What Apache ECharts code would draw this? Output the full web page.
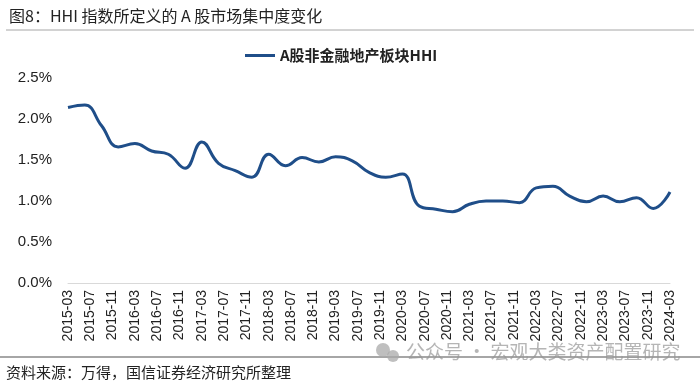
<!DOCTYPE html>
<html>
<head>
<meta charset="utf-8">
<script src="https://cdn.jsdelivr.net/npm/echarts@6/dist/echarts.min.js"></script>
<style>
html,body{margin:0;padding:0;background:#fff;}
#main{width:700px;height:386px;}
</style>
</head>
<body>
<div id="main"></div>
<script>
// Monthly category axis 2015-03 .. 2024-03
const months = [];
for (let y = 2015; y <= 2024; y++) {
  for (let m = 1; m <= 12; m++) {
    if ((y === 2015 && m < 3) || (y === 2024 && m > 3)) continue;
    months.push(y + '-' + (m < 10 ? '0' + m : '' + m));
  }
}
// Quarterly observations
const quarters = [
  '2015-03','2015-06','2015-09','2015-12',
  '2016-03','2016-06','2016-09','2016-12',
  '2017-03','2017-06','2017-09','2017-12',
  '2018-03','2018-06','2018-09','2018-12',
  '2019-03','2019-06','2019-09','2019-12',
  '2020-03','2020-06','2020-09','2020-12',
  '2021-03','2021-06','2021-09','2021-12',
  '2022-03','2022-06','2022-09','2022-12',
  '2023-03','2023-06','2023-09','2023-12',
  '2024-03'
];
// HHI in percent
const hhi = [
  2.14, 2.17, 1.92, 1.66,
  1.70, 1.61, 1.57, 1.40,
  1.72, 1.46, 1.37, 1.29,
  1.57, 1.43, 1.53, 1.475,
  1.54, 1.49, 1.35, 1.29,
  1.33, 0.94, 0.90, 0.87,
  0.96, 1.00, 1.00, 0.98,
  1.16, 1.18, 1.06, 0.99,
  1.06, 0.99, 1.04, 0.91,
  1.11
];
const seriesName = 'A股非金融地产板块HHI';
const titleText = '图8：HHI 指数所定义的 A 股市场集中度变化';
const sourceText = '资料来源：万得，国信证券经济研究所整理';
const watermark = '公众号 · 宏观大类资产配置研究';

const chart = echarts.init(document.getElementById('main'), null, {renderer: 'canvas'});
chart.setOption({
  backgroundColor: '#ffffff',
  animation: false,
  title: {
    text: titleText,
    left: 4, top: 3,
    textStyle: {fontFamily: '"Noto Sans CJK SC", sans-serif', fontSize: 16, fontWeight: 'normal', color: '#222'}
  },
  legend: {
    data: [seriesName],
    top: 43, left: 240,
    itemWidth: 30, itemHeight: 3, itemGap: 6,
    icon: 'rect',
    textStyle: {fontFamily: '"Noto Sans CJK SC", sans-serif', fontSize: 15, fontWeight: 'bold', color: '#222'}
  },
  grid: {left: 68, right: 30, top: 78, bottom: 103, containLabel: false},
  xAxis: {
    type: 'category',
    data: months,
    boundaryGap: false,
    axisLine: {lineStyle: {color: '#d9d9d9', width: 1}},
    axisTick: {show: false},
    axisLabel: {
      interval: 3, rotate: 90, fontSize: 14, color: '#222', margin: 7,
      fontFamily: '"Liberation Sans", Arial, sans-serif'
    },
    splitLine: {show: false}
  },
  yAxis: {
    type: 'value',
    min: 0, max: 2.5, interval: 0.5,
    axisLine: {show: false},
    axisTick: {show: false},
    splitLine: {show: false},
    axisLabel: {
      fontSize: 15, color: '#222', margin: 16,
      fontFamily: '"Liberation Sans", Arial, sans-serif',
      formatter: v => v.toFixed(1) + '%'
    }
  },
  series: [{
    name: seriesName,
    type: 'line',
    smooth: 0.45,
    showSymbol: false,
    symbol: 'none',
    lineStyle: {color: '#1f4e89', width: 3},
    itemStyle: {color: '#1f4e89'},
    data: quarters.map((q, i) => [q, hhi[i]])
  }],
  graphic: [
    {type: 'line', shape: {x1: 6, y1: 30, x2: 694, y2: 30}, style: {stroke: '#a6a6a6', lineWidth: 1}},
    {type: 'line', shape: {x1: 0, y1: 357, x2: 700, y2: 357}, style: {stroke: '#a6a6a6', lineWidth: 2}},
    {type: 'text', left: 6, top: 365, style: {text: sourceText, fill: '#222', font: '15px "Noto Sans CJK SC", sans-serif'}},
    {type: 'text', left: 406, top: 342, style: {text: watermark, fill: 'rgba(150,150,150,0.7)', font: '19px "Noto Sans CJK SC", sans-serif'}},
    {type: 'circle', shape: {cx: 383, cy: 350, r: 7}, style: {fill: 'rgba(170,170,170,0.75)'}},
    {type: 'circle', shape: {cx: 393, cy: 356, r: 6}, style: {fill: 'rgba(170,170,170,0.75)'}}
  ]
});
</script>
</body>
</html>
